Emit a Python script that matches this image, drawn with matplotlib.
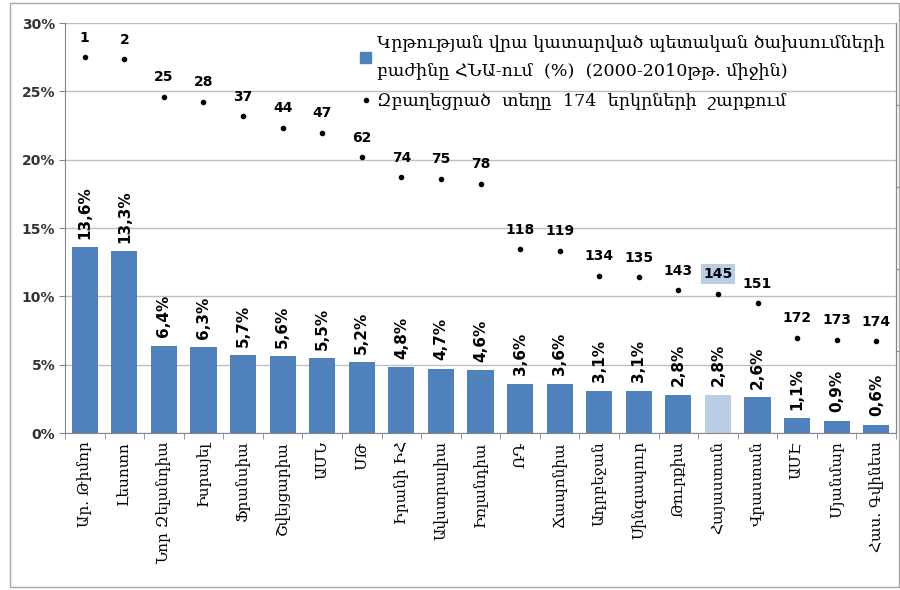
import matplotlib.pyplot as plt
from matplotlib.patches import Rectangle
from matplotlib.lines import Line2D
from matplotlib.ticker import FixedLocator, NullFormatter, PercentFormatter

# data
countries = ["Ար. Թիմոր", "Լեսոտո", "Նոր Զելանդիա", "Իսրայել", "Ֆրանսիա",
             "Շվեյցարիա", "ԱՄՆ", "ՄԹ", "Իրանի ԻՀ", "Ավստրալիա", "Իռլանդիա",
             "ՌԴ", "Ճապոնիա", "Ադրբեջան", "Սինգապուր", "Թուրքիա", "Հայաստան",
             "Վրաստան", "ԱՄԷ", "Մյանմար", "Հաս. Գվինեա"]
spending = [13.6, 13.3, 6.4, 6.3, 5.7, 5.6, 5.5, 5.2, 4.8, 4.7, 4.6,
            3.6, 3.6, 3.1, 3.1, 2.8, 2.8, 2.6, 1.1, 0.9, 0.6]
ranks = [1, 2, 25, 28, 37, 44, 47, 62, 74, 75, 78,
         118, 119, 134, 135, 143, 145, 151, 172, 173, 174]
highlight = "Հայաստան"

label_bar = "Կրթության վրա կատարված պետական ծախսումների\nբաժինը ՀՆԱ-ում  (%)  (2000-2010թթ. միջին)"
label_rank = "Զբաղեցրած  տեղը  174  երկրների  շարքում"

arm_font = ["DejaVu Serif", "DejaVu Sans"]
blue = "#4f81bd"
light = "#b9cde5"
grid_c = "#bfbfbf"
spine_c = "#868686"

fig = plt.figure(figsize=(9, 5.9), dpi=100)
ax = fig.add_axes([0.0722, 0.2661, 0.9234, 0.6949])

x = list(range(len(countries)))
colors = [light if c == highlight else blue for c in countries]
bars = ax.bar(x, [v / 100 for v in spending], width=0.66, color=colors, zorder=2)

for xi, v in zip(x, spending):
    ax.annotate(f"{v:.1f}%".replace(".", ","), (xi, v / 100), xytext=(0, 6),
                textcoords="offset points", rotation=90, ha="center", va="bottom",
                fontsize=11, fontweight="bold", color="black")

ax.set_xlim(-0.5, len(countries) - 0.5)
ax.set_ylim(0, 0.30)
ax.set_yticks([0, 0.05, 0.10, 0.15, 0.20, 0.25, 0.30])
ax.yaxis.set_major_formatter(PercentFormatter(1.0, decimals=0))
ax.grid(axis="y", color=grid_c, linewidth=1, zorder=0)
ax.set_axisbelow(True)

ax.set_xticks(x)
ax.set_xticklabels(countries, rotation=90, family=arm_font, fontsize=11)
ax.xaxis.set_minor_locator(FixedLocator([i - 0.5 for i in range(len(countries) + 1)]))
ax.tick_params(axis="x", which="major", length=0, pad=6)
ax.tick_params(axis="x", which="minor", length=4, color=spine_c)
ax.tick_params(axis="y", length=4, color=spine_c, labelsize=10, labelcolor="#333333", pad=3)
for t in ax.get_yticklabels():
    t.set_fontweight("bold")

ax.spines["top"].set_visible(False)
for s in ["left", "bottom", "right"]:
    ax.spines[s].set_color(spine_c)

# secondary axis for ranks (inverted)
ax2 = ax.twinx()
ax2.set_ylim(230, -20)
ax2.yaxis.set_major_locator(FixedLocator([30, 80, 130, 180]))
ax2.yaxis.set_major_formatter(NullFormatter())
ax2.tick_params(axis="y", length=4, color=spine_c)
ax2.spines["top"].set_visible(False)
ax2.spines["right"].set_color(spine_c)
ax2.spines["left"].set_visible(False)
ax2.spines["bottom"].set_visible(False)
ax2.plot(x, ranks, linestyle="none", marker="o", markersize=3, color="black", zorder=3)

for xi, r, c in zip(x, ranks, countries):
    box = dict(boxstyle="square,pad=0.2", fc=light, ec="none") if c == highlight else None
    ax2.annotate(str(r), (xi, r), xytext=(0, 9), textcoords="offset points",
                 ha="center", va="bottom", fontsize=10, fontweight="bold", bbox=box)

handles = [Rectangle((0, 0), 1, 1, color=blue),
           Line2D([], [], linestyle="none", marker="o", markersize=3, color="black")]
leg = ax2.legend(handles, [label_bar, label_rank], loc="upper left",
                 bbox_to_anchor=(0.347, 0.987), frameon=False,
                 prop={"family": arm_font, "size": 12.6},
                 handlelength=0.6, handleheight=0.6, handletextpad=0.35,
                 labelspacing=0.8, borderaxespad=0)
for t in leg.get_texts():
    t.set_linespacing(1.75)

fig.patches.append(Rectangle((10 / 900, 3 / 590), 889 / 900, 584 / 590,
                             transform=fig.transFigure, fill=False,
                             edgecolor="#a6a6a6", linewidth=1))

fig.savefig("out.png", dpi=100)
